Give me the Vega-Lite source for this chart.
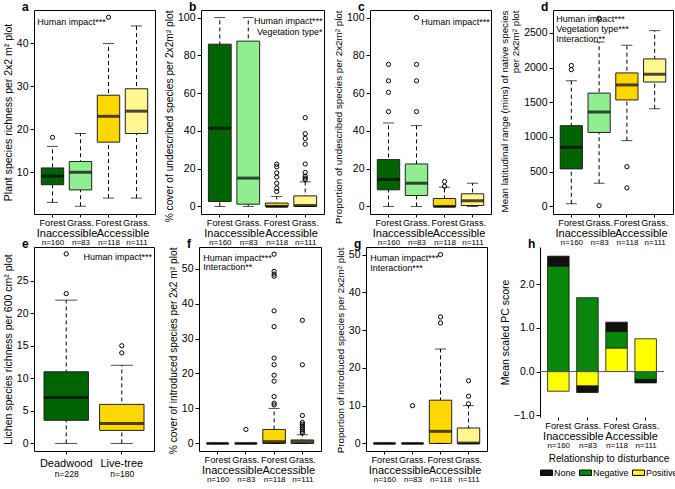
{
"$schema":"https://vega.github.io/schema/vega-lite/v6.json",
"padding":{"left":2,"top":0,"right":0,"bottom":0},
"datasets":{
"boxes":[
{"panel":"a","cat":"Forest|Inaccessible","grp":"Inaccessible","nlab":"n=160","lo":3,"q1":7.1,"med":9.1,"q3":11,"hi":16},
{"panel":"a","cat":"Grass.|Inaccessible","grp":"Inaccessible","nlab":"n=83","lo":2.1,"q1":5.9,"med":10,"q3":12.5,"hi":19},
{"panel":"a","cat":"Forest|Accessible","grp":"Accessible","nlab":"n=118","lo":4,"q1":17,"med":23,"q3":27.9,"hi":39.9},
{"panel":"a","cat":"Grass.|Accessible","grp":"Accessible","nlab":"n=111","lo":4,"q1":19,"med":24.2,"q3":29.4,"hi":44},
{"panel":"b","cat":"Forest|Inaccessible","grp":"Inaccessible","nlab":"n=160","lo":0,"q1":2.6,"med":41.4,"q3":85.9,"hi":100},
{"panel":"b","cat":"Grass.|Inaccessible","grp":"Inaccessible","nlab":"n=83","lo":0,"q1":1.2,"med":15,"q3":87.5,"hi":100},
{"panel":"b","cat":"Forest|Accessible","grp":"Accessible","nlab":"n=118","lo":0,"q1":0,"med":0,"q3":1.8,"hi":5.3},
{"panel":"b","cat":"Grass.|Accessible","grp":"Accessible","nlab":"n=111","lo":0,"q1":0,"med":0.5,"q3":5.6,"hi":13},
{"panel":"c","cat":"Forest|Inaccessible","grp":"Inaccessible","nlab":"n=160","lo":0,"q1":8.8,"med":14.3,"q3":24.8,"hi":44.2},
{"panel":"c","cat":"Grass.|Inaccessible","grp":"Inaccessible","nlab":"n=83","lo":0,"q1":5.8,"med":12.3,"q3":22.5,"hi":42.8},
{"panel":"c","cat":"Forest|Accessible","grp":"Accessible","nlab":"n=118","lo":0,"q1":0,"med":0,"q3":4.2,"hi":10.2},
{"panel":"c","cat":"Grass.|Accessible","grp":"Accessible","nlab":"n=111","lo":0,"q1":0.5,"med":3,"q3":6.7,"hi":12.3},
{"panel":"d","cat":"Forest|Inaccessible","grp":"Inaccessible","nlab":"n=160","lo":38,"q1":540,"med":853,"q3":1163,"hi":1810},
{"panel":"d","cat":"Grass.|Inaccessible","grp":"Inaccessible","nlab":"n=83","lo":333,"q1":1065,"med":1360,"q3":1632,"hi":2369},
{"panel":"d","cat":"Forest|Accessible","grp":"Accessible","nlab":"n=118","lo":947,"q1":1534,"med":1750,"q3":1923,"hi":2322},
{"panel":"d","cat":"Grass.|Accessible","grp":"Accessible","nlab":"n=111","lo":1407,"q1":1792,"med":1904,"q3":2125,"hi":2533},
{"panel":"e","cat":"Deadwood","grp":"Deadwood","nlab":"n=228","lo":0,"q1":3.55,"med":7.05,"q3":11,"hi":22},
{"panel":"e","cat":"Live-tree","grp":"Live-tree","nlab":"n=180","lo":0,"q1":2,"med":3.05,"q3":6,"hi":12},
{"panel":"f","cat":"Forest|Inaccessible","grp":"Inaccessible","nlab":"n=160","lo":0,"q1":0,"med":0,"q3":0,"hi":0},
{"panel":"f","cat":"Grass.|Inaccessible","grp":"Inaccessible","nlab":"n=83","lo":0,"q1":0,"med":0,"q3":0,"hi":0},
{"panel":"f","cat":"Forest|Accessible","grp":"Accessible","nlab":"n=118","lo":0,"q1":0,"med":0.5,"q3":4,"hi":10},
{"panel":"f","cat":"Grass.|Accessible","grp":"Accessible","nlab":"n=111","lo":0,"q1":0,"med":0.5,"q3":1,"hi":2.5},
{"panel":"g","cat":"Forest|Inaccessible","grp":"Inaccessible","nlab":"n=160","lo":0,"q1":0,"med":0,"q3":0,"hi":0},
{"panel":"g","cat":"Grass.|Inaccessible","grp":"Inaccessible","nlab":"n=83","lo":0,"q1":0,"med":0,"q3":0,"hi":0},
{"panel":"g","cat":"Forest|Accessible","grp":"Accessible","nlab":"n=118","lo":0,"q1":0,"med":3.2,"q3":11.45,"hi":25},
{"panel":"g","cat":"Grass.|Accessible","grp":"Accessible","nlab":"n=111","lo":0,"q1":0,"med":0.1,"q3":4.1,"hi":10}
],
"outliers":[
{"panel":"a","cat":"Forest|Inaccessible","v":18.1},
{"panel":"a","cat":"Forest|Accessible","v":46},
{"panel":"b","cat":"Forest|Accessible","v":22.4},
{"panel":"b","cat":"Forest|Accessible","v":21},
{"panel":"b","cat":"Forest|Accessible","v":17.8},
{"panel":"b","cat":"Forest|Accessible","v":15.5},
{"panel":"b","cat":"Forest|Accessible","v":12.3},
{"panel":"b","cat":"Forest|Accessible","v":9.7},
{"panel":"b","cat":"Forest|Accessible","v":7.9},
{"panel":"b","cat":"Grass.|Accessible","v":47},
{"panel":"b","cat":"Grass.|Accessible","v":38.5},
{"panel":"b","cat":"Grass.|Accessible","v":36},
{"panel":"b","cat":"Grass.|Accessible","v":33},
{"panel":"b","cat":"Grass.|Accessible","v":22.5},
{"panel":"b","cat":"Grass.|Accessible","v":18},
{"panel":"b","cat":"Grass.|Accessible","v":16},
{"panel":"b","cat":"Grass.|Accessible","v":15},
{"panel":"b","cat":"Grass.|Accessible","v":14.2},
{"panel":"c","cat":"Forest|Inaccessible","v":50.2},
{"panel":"c","cat":"Forest|Inaccessible","v":60.4},
{"panel":"c","cat":"Forest|Inaccessible","v":66.5},
{"panel":"c","cat":"Forest|Inaccessible","v":75.2},
{"panel":"c","cat":"Grass.|Inaccessible","v":50.2},
{"panel":"c","cat":"Grass.|Inaccessible","v":66.5},
{"panel":"c","cat":"Grass.|Inaccessible","v":75.2},
{"panel":"c","cat":"Grass.|Inaccessible","v":100},
{"panel":"c","cat":"Forest|Accessible","v":10.6},
{"panel":"c","cat":"Forest|Accessible","v":13.2},
{"panel":"d","cat":"Forest|Inaccessible","v":1970},
{"panel":"d","cat":"Forest|Inaccessible","v":2030},
{"panel":"d","cat":"Grass.|Inaccessible","v":10},
{"panel":"d","cat":"Grass.|Inaccessible","v":2711},
{"panel":"d","cat":"Forest|Accessible","v":572},
{"panel":"d","cat":"Forest|Accessible","v":267},
{"panel":"e","cat":"Deadwood","v":23},
{"panel":"e","cat":"Deadwood","v":29.1},
{"panel":"e","cat":"Live-tree","v":13.9},
{"panel":"e","cat":"Live-tree","v":15},
{"panel":"f","cat":"Grass.|Inaccessible","v":4},
{"panel":"f","cat":"Forest|Accessible","v":11},
{"panel":"f","cat":"Forest|Accessible","v":11.5},
{"panel":"f","cat":"Forest|Accessible","v":13.4},
{"panel":"f","cat":"Forest|Accessible","v":17.8},
{"panel":"f","cat":"Forest|Accessible","v":19.5},
{"panel":"f","cat":"Forest|Accessible","v":22.5},
{"panel":"f","cat":"Forest|Accessible","v":24.4},
{"panel":"f","cat":"Forest|Accessible","v":33.4},
{"panel":"f","cat":"Forest|Accessible","v":37.9},
{"panel":"f","cat":"Forest|Accessible","v":47.8},
{"panel":"f","cat":"Forest|Accessible","v":48.4},
{"panel":"f","cat":"Forest|Accessible","v":49.2},
{"panel":"f","cat":"Forest|Accessible","v":54.1},
{"panel":"f","cat":"Grass.|Accessible","v":3},
{"panel":"f","cat":"Grass.|Accessible","v":3.5},
{"panel":"f","cat":"Grass.|Accessible","v":4},
{"panel":"f","cat":"Grass.|Accessible","v":4.5},
{"panel":"f","cat":"Grass.|Accessible","v":5},
{"panel":"f","cat":"Grass.|Accessible","v":5.5},
{"panel":"f","cat":"Grass.|Accessible","v":6},
{"panel":"f","cat":"Grass.|Accessible","v":8},
{"panel":"f","cat":"Grass.|Accessible","v":22.5},
{"panel":"f","cat":"Grass.|Accessible","v":35.2},
{"panel":"g","cat":"Grass.|Inaccessible","v":10},
{"panel":"g","cat":"Forest|Accessible","v":31.9},
{"panel":"g","cat":"Forest|Accessible","v":33.5},
{"panel":"g","cat":"Forest|Accessible","v":50},
{"panel":"g","cat":"Grass.|Accessible","v":10.5},
{"panel":"g","cat":"Grass.|Accessible","v":12.5},
{"panel":"g","cat":"Grass.|Accessible","v":16.6}
],
"notes":[
{"panel":"a","cat":"Forest|Inaccessible","v":44.9,"label":"Human impact***"},
{"panel":"b","cat":"Grass.|Accessible","v":98.2,"label":"Human impact***"},
{"panel":"b","cat":"Grass.|Accessible","v":92.5,"label":"Vegetation type*"},
{"panel":"c","cat":"Grass.|Accessible","v":97.7,"label":"Human impact***"},
{"panel":"d","cat":"Forest|Inaccessible","v":2702,"label":"Human impact***"},
{"panel":"d","cat":"Forest|Inaccessible","v":2559,"label":"Vegetation type***"},
{"panel":"d","cat":"Forest|Inaccessible","v":2416,"label":"Interaction**"},
{"panel":"e","cat":"Live-tree","v":28.6,"label":"Human impact***"},
{"panel":"f","cat":"Forest|Inaccessible","v":53.1,"label":"Human impact***"},
{"panel":"f","cat":"Forest|Inaccessible","v":50.3,"label":"Interaction**"},
{"panel":"g","cat":"Forest|Inaccessible","v":49.1,"label":"Human impact***"},
{"panel":"g","cat":"Forest|Inaccessible","v":46.5,"label":"Interaction***"}
],
"pc":[
{"cat":"Forest|Inaccessible","grp":"Inaccessible","nlab":"n=160","rel":"Positive","rank":1,"score":-0.45},
{"cat":"Forest|Inaccessible","grp":"Inaccessible","nlab":"n=160","rel":"Negative","rank":2,"score":2.41},
{"cat":"Forest|Inaccessible","grp":"Inaccessible","nlab":"n=160","rel":"None","rank":3,"score":0.23},
{"cat":"Grass.|Inaccessible","grp":"Inaccessible","nlab":"n=83","rel":"Positive","rank":1,"score":-0.33},
{"cat":"Grass.|Inaccessible","grp":"Inaccessible","nlab":"n=83","rel":"Negative","rank":2,"score":1.69},
{"cat":"Grass.|Inaccessible","grp":"Inaccessible","nlab":"n=83","rel":"None","rank":3,"score":-0.15},
{"cat":"Forest|Accessible","grp":"Accessible","nlab":"n=118","rel":"Positive","rank":1,"score":0.54},
{"cat":"Forest|Accessible","grp":"Accessible","nlab":"n=118","rel":"Negative","rank":2,"score":0.38},
{"cat":"Forest|Accessible","grp":"Accessible","nlab":"n=118","rel":"None","rank":3,"score":0.21},
{"cat":"Grass.|Accessible","grp":"Accessible","nlab":"n=111","rel":"Positive","rank":1,"score":0.75},
{"cat":"Grass.|Accessible","grp":"Accessible","nlab":"n=111","rel":"Negative","rank":2,"score":-0.18},
{"cat":"Grass.|Accessible","grp":"Accessible","nlab":"n=111","rel":"None","rank":3,"score":-0.08}
]
},
"vconcat":[
{"hconcat":[
{"title":"a","width":121,"height":204,"resolve":{"scale":{"x":"independent"},"axis":{"x":"independent"}},
"data":{"name":"boxes"},"transform":[{"filter":"datum.panel=='a'"}],
"layer":[
{"mark":{"type":"rule","strokeDash":[4,3],"color":"#000"},"encoding":{"x":{"field":"cat","type":"nominal","scale":{"type":"band","domain":["Forest|Inaccessible","Grass.|Inaccessible","Forest|Accessible","Grass.|Accessible"],"paddingInner":0.2,"paddingOuter":0.26},"axis":{"title":null,"orient":"bottom","labelExpr":"split(datum.label,'|')[0]","labelPadding":1,"labelFontSize":9.2,"domain":false,"ticks":true,"tickSize":3,"labelOverlap":false}},"y":{"field":"lo","type":"quantitative","scale":{"domain":[0.3,47.7],"nice":false,"zero":false},"axis":{"title":"Plant species richness per 2x2 m² plot","values":[10,20,30,40]}},"y2":{"field":"hi"}}},
{"mark":{"type":"bar","stroke":"#222","strokeWidth":1},"encoding":{"x":{"field":"cat","type":"nominal","scale":{"type":"band","domain":["Forest|Inaccessible","Grass.|Inaccessible","Forest|Accessible","Grass.|Accessible"],"paddingInner":0.2,"paddingOuter":0.26},"axis":null},"y":{"field":"q1","type":"quantitative"},"y2":{"field":"q3"},"color":{"field":"cat","type":"nominal","scale":{"domain":["Forest|Inaccessible","Grass.|Inaccessible","Forest|Accessible","Grass.|Accessible"],"range":["#006400","#90EE90","#FFD700","#FFF68F"]},"legend":null}}},
{"mark":{"type":"tick","size":11,"thickness":1,"color":"#000"},"encoding":{"x":{"field":"cat","type":"nominal","scale":{"type":"band","domain":["Forest|Inaccessible","Grass.|Inaccessible","Forest|Accessible","Grass.|Accessible"],"paddingInner":0.2,"paddingOuter":0.26},"axis":null},"y":{"field":"lo","type":"quantitative"}}},
{"mark":{"type":"tick","size":11,"thickness":1,"color":"#000"},"encoding":{"x":{"field":"cat","type":"nominal","scale":{"type":"band","domain":["Forest|Inaccessible","Grass.|Inaccessible","Forest|Accessible","Grass.|Accessible"],"paddingInner":0.2,"paddingOuter":0.26},"axis":null},"y":{"field":"hi","type":"quantitative"}}},
{"mark":{"type":"tick","size":22,"thickness":3,"color":"#000"},"encoding":{"x":{"field":"cat","type":"nominal","scale":{"type":"band","domain":["Forest|Inaccessible","Grass.|Inaccessible","Forest|Accessible","Grass.|Accessible"],"paddingInner":0.2,"paddingOuter":0.26},"axis":null},"y":{"field":"med","type":"quantitative"}}},
{"data":{"name":"outliers"},"transform":[{"filter":"datum.panel=='a'"}],"mark":{"type":"point","shape":"circle","filled":false,"size":18,"color":"#000","strokeWidth":1,"opacity":1},"encoding":{"x":{"field":"cat","type":"nominal","scale":{"type":"band","domain":["Forest|Inaccessible","Grass.|Inaccessible","Forest|Accessible","Grass.|Accessible"],"paddingInner":0.2,"paddingOuter":0.26},"axis":null},"y":{"field":"v","type":"quantitative"}}},
{"data":{"name":"notes"},"transform":[{"filter":"datum.panel=='a'"}],"mark":{"type":"text","align":"left","baseline":"middle","fontSize":9,"dx":-4},"encoding":{"x":{"field":"cat","type":"nominal","bandPosition":0,"scale":{"type":"band","domain":["Forest|Inaccessible","Grass.|Inaccessible","Forest|Accessible","Grass.|Accessible"],"paddingInner":0.2,"paddingOuter":0.26},"axis":null},"y":{"field":"v","type":"quantitative"},"text":{"field":"label"}}},
{"mark":{"type":"point","opacity":0},"encoding":{"x":{"field":"grp","type":"nominal","scale":{"type":"point","padding":0.58,"domain":["Inaccessible","Accessible"]},"axis":{"title":null,"orient":"bottom","labelPadding":13,"labelFontSize":11,"domain":false,"ticks":false,"labelOverlap":false}},"y":{"field":"med","type":"quantitative"}}},
{"mark":{"type":"point","opacity":0},"encoding":{"x":{"field":"nlab","type":"nominal","sort":null,"scale":{"type":"point","padding":0.66},"axis":{"title":null,"orient":"bottom","labelPadding":24,"labelFontSize":8,"domain":false,"ticks":false,"labelOverlap":false}},"y":{"field":"med","type":"quantitative"}}}
]},
{"title":"b","width":123,"height":204,"resolve":{"scale":{"x":"independent"},"axis":{"x":"independent"}},
"data":{"name":"boxes"},"transform":[{"filter":"datum.panel=='b'"}],
"layer":[
{"mark":{"type":"rule","strokeDash":[4,3],"color":"#000"},"encoding":{"x":{"field":"cat","type":"nominal","scale":{"type":"band","domain":["Forest|Inaccessible","Grass.|Inaccessible","Forest|Accessible","Grass.|Accessible"],"paddingInner":0.2,"paddingOuter":0.26},"axis":{"title":null,"orient":"bottom","labelExpr":"split(datum.label,'|')[0]","labelPadding":1,"labelFontSize":9.2,"domain":false,"ticks":true,"tickSize":3,"labelOverlap":false}},"y":{"field":"lo","type":"quantitative","scale":{"domain":[-4,104],"nice":false,"zero":false},"axis":{"title":"% cover of undescribed species per 2x2m² plot","titleAnchor":"end","titleFontSize":10.2,"values":[0,20,40,60,80,100]}},"y2":{"field":"hi"}}},
{"mark":{"type":"bar","stroke":"#222","strokeWidth":1},"encoding":{"x":{"field":"cat","type":"nominal","scale":{"type":"band","domain":["Forest|Inaccessible","Grass.|Inaccessible","Forest|Accessible","Grass.|Accessible"],"paddingInner":0.2,"paddingOuter":0.26},"axis":null},"y":{"field":"q1","type":"quantitative"},"y2":{"field":"q3"},"color":{"field":"cat","type":"nominal","scale":{"domain":["Forest|Inaccessible","Grass.|Inaccessible","Forest|Accessible","Grass.|Accessible"],"range":["#006400","#90EE90","#FFD700","#FFF68F"]},"legend":null}}},
{"mark":{"type":"tick","size":11,"thickness":1,"color":"#000"},"encoding":{"x":{"field":"cat","type":"nominal","scale":{"type":"band","domain":["Forest|Inaccessible","Grass.|Inaccessible","Forest|Accessible","Grass.|Accessible"],"paddingInner":0.2,"paddingOuter":0.26},"axis":null},"y":{"field":"lo","type":"quantitative"}}},
{"mark":{"type":"tick","size":11,"thickness":1,"color":"#000"},"encoding":{"x":{"field":"cat","type":"nominal","scale":{"type":"band","domain":["Forest|Inaccessible","Grass.|Inaccessible","Forest|Accessible","Grass.|Accessible"],"paddingInner":0.2,"paddingOuter":0.26},"axis":null},"y":{"field":"hi","type":"quantitative"}}},
{"mark":{"type":"tick","size":22,"thickness":3,"color":"#000"},"encoding":{"x":{"field":"cat","type":"nominal","scale":{"type":"band","domain":["Forest|Inaccessible","Grass.|Inaccessible","Forest|Accessible","Grass.|Accessible"],"paddingInner":0.2,"paddingOuter":0.26},"axis":null},"y":{"field":"med","type":"quantitative"}}},
{"data":{"name":"outliers"},"transform":[{"filter":"datum.panel=='b'"}],"mark":{"type":"point","shape":"circle","filled":false,"size":18,"color":"#000","strokeWidth":1,"opacity":1},"encoding":{"x":{"field":"cat","type":"nominal","scale":{"type":"band","domain":["Forest|Inaccessible","Grass.|Inaccessible","Forest|Accessible","Grass.|Accessible"],"paddingInner":0.2,"paddingOuter":0.26},"axis":null},"y":{"field":"v","type":"quantitative"}}},
{"data":{"name":"notes"},"transform":[{"filter":"datum.panel=='b'"}],"mark":{"type":"text","align":"right","baseline":"middle","fontSize":9,"dx":6},"encoding":{"x":{"field":"cat","type":"nominal","bandPosition":1,"scale":{"type":"band","domain":["Forest|Inaccessible","Grass.|Inaccessible","Forest|Accessible","Grass.|Accessible"],"paddingInner":0.2,"paddingOuter":0.26},"axis":null},"y":{"field":"v","type":"quantitative"},"text":{"field":"label"}}},
{"mark":{"type":"point","opacity":0},"encoding":{"x":{"field":"grp","type":"nominal","scale":{"type":"point","padding":0.58,"domain":["Inaccessible","Accessible"]},"axis":{"title":null,"orient":"bottom","labelPadding":13,"labelFontSize":11,"domain":false,"ticks":false,"labelOverlap":false}},"y":{"field":"med","type":"quantitative"}}},
{"mark":{"type":"point","opacity":0},"encoding":{"x":{"field":"nlab","type":"nominal","sort":null,"scale":{"type":"point","padding":0.66},"axis":{"title":null,"orient":"bottom","labelPadding":24,"labelFontSize":8,"domain":false,"ticks":false,"labelOverlap":false}},"y":{"field":"med","type":"quantitative"}}}
]},
{"title":"c","width":121,"height":204,"resolve":{"scale":{"x":"independent"},"axis":{"x":"independent"}},
"data":{"name":"boxes"},"transform":[{"filter":"datum.panel=='c'"}],
"layer":[
{"mark":{"type":"rule","strokeDash":[4,3],"color":"#000"},"encoding":{"x":{"field":"cat","type":"nominal","scale":{"type":"band","domain":["Forest|Inaccessible","Grass.|Inaccessible","Forest|Accessible","Grass.|Accessible"],"paddingInner":0.2,"paddingOuter":0.26},"axis":{"title":null,"orient":"bottom","labelExpr":"split(datum.label,'|')[0]","labelPadding":1,"labelFontSize":9.2,"domain":false,"ticks":true,"tickSize":3,"labelOverlap":false}},"y":{"field":"lo","type":"quantitative","scale":{"domain":[-4,104],"nice":false,"zero":false},"axis":{"title":"Proportion of undescribed species per 2x2m² plot","titleAnchor":"end","titleFontSize":9.8,"values":[0,20,40,60,80,100]}},"y2":{"field":"hi"}}},
{"mark":{"type":"bar","stroke":"#222","strokeWidth":1},"encoding":{"x":{"field":"cat","type":"nominal","scale":{"type":"band","domain":["Forest|Inaccessible","Grass.|Inaccessible","Forest|Accessible","Grass.|Accessible"],"paddingInner":0.2,"paddingOuter":0.26},"axis":null},"y":{"field":"q1","type":"quantitative"},"y2":{"field":"q3"},"color":{"field":"cat","type":"nominal","scale":{"domain":["Forest|Inaccessible","Grass.|Inaccessible","Forest|Accessible","Grass.|Accessible"],"range":["#006400","#90EE90","#FFD700","#FFF68F"]},"legend":null}}},
{"mark":{"type":"tick","size":11,"thickness":1,"color":"#000"},"encoding":{"x":{"field":"cat","type":"nominal","scale":{"type":"band","domain":["Forest|Inaccessible","Grass.|Inaccessible","Forest|Accessible","Grass.|Accessible"],"paddingInner":0.2,"paddingOuter":0.26},"axis":null},"y":{"field":"lo","type":"quantitative"}}},
{"mark":{"type":"tick","size":11,"thickness":1,"color":"#000"},"encoding":{"x":{"field":"cat","type":"nominal","scale":{"type":"band","domain":["Forest|Inaccessible","Grass.|Inaccessible","Forest|Accessible","Grass.|Accessible"],"paddingInner":0.2,"paddingOuter":0.26},"axis":null},"y":{"field":"hi","type":"quantitative"}}},
{"mark":{"type":"tick","size":22,"thickness":3,"color":"#000"},"encoding":{"x":{"field":"cat","type":"nominal","scale":{"type":"band","domain":["Forest|Inaccessible","Grass.|Inaccessible","Forest|Accessible","Grass.|Accessible"],"paddingInner":0.2,"paddingOuter":0.26},"axis":null},"y":{"field":"med","type":"quantitative"}}},
{"data":{"name":"outliers"},"transform":[{"filter":"datum.panel=='c'"}],"mark":{"type":"point","shape":"circle","filled":false,"size":18,"color":"#000","strokeWidth":1,"opacity":1},"encoding":{"x":{"field":"cat","type":"nominal","scale":{"type":"band","domain":["Forest|Inaccessible","Grass.|Inaccessible","Forest|Accessible","Grass.|Accessible"],"paddingInner":0.2,"paddingOuter":0.26},"axis":null},"y":{"field":"v","type":"quantitative"}}},
{"data":{"name":"notes"},"transform":[{"filter":"datum.panel=='c'"}],"mark":{"type":"text","align":"right","baseline":"middle","fontSize":9,"dx":6},"encoding":{"x":{"field":"cat","type":"nominal","bandPosition":1,"scale":{"type":"band","domain":["Forest|Inaccessible","Grass.|Inaccessible","Forest|Accessible","Grass.|Accessible"],"paddingInner":0.2,"paddingOuter":0.26},"axis":null},"y":{"field":"v","type":"quantitative"},"text":{"field":"label"}}},
{"mark":{"type":"point","opacity":0},"encoding":{"x":{"field":"grp","type":"nominal","scale":{"type":"point","padding":0.58,"domain":["Inaccessible","Accessible"]},"axis":{"title":null,"orient":"bottom","labelPadding":13,"labelFontSize":11,"domain":false,"ticks":false,"labelOverlap":false}},"y":{"field":"med","type":"quantitative"}}},
{"mark":{"type":"point","opacity":0},"encoding":{"x":{"field":"nlab","type":"nominal","sort":null,"scale":{"type":"point","padding":0.66},"axis":{"title":null,"orient":"bottom","labelPadding":24,"labelFontSize":8,"domain":false,"ticks":false,"labelOverlap":false}},"y":{"field":"med","type":"quantitative"}}}
]},
{"title":"d","width":120,"height":204,"resolve":{"scale":{"x":"independent"},"axis":{"x":"independent"}},
"data":{"name":"boxes"},"transform":[{"filter":"datum.panel=='d'"}],
"layer":[
{"mark":{"type":"rule","strokeDash":[4,3],"color":"#000"},"encoding":{"x":{"field":"cat","type":"nominal","scale":{"type":"band","domain":["Forest|Inaccessible","Grass.|Inaccessible","Forest|Accessible","Grass.|Accessible"],"paddingInner":0.2,"paddingOuter":0.26},"axis":{"title":null,"orient":"bottom","labelExpr":"split(datum.label,'|')[0]","labelPadding":1,"labelFontSize":9.2,"domain":false,"ticks":true,"tickSize":3,"labelOverlap":false}},"y":{"field":"lo","type":"quantitative","scale":{"domain":[-110,2830],"nice":false,"zero":false},"axis":{"title":["Mean latitudinal range (mins) of native species","per 2x2m² plot"],"titleAnchor":"end","titleFontSize":9.8,"titleLineHeight":11,"format":"d","values":[0,500,1000,1500,2000,2500]}},"y2":{"field":"hi"}}},
{"mark":{"type":"bar","stroke":"#222","strokeWidth":1},"encoding":{"x":{"field":"cat","type":"nominal","scale":{"type":"band","domain":["Forest|Inaccessible","Grass.|Inaccessible","Forest|Accessible","Grass.|Accessible"],"paddingInner":0.2,"paddingOuter":0.26},"axis":null},"y":{"field":"q1","type":"quantitative"},"y2":{"field":"q3"},"color":{"field":"cat","type":"nominal","scale":{"domain":["Forest|Inaccessible","Grass.|Inaccessible","Forest|Accessible","Grass.|Accessible"],"range":["#006400","#90EE90","#FFD700","#FFF68F"]},"legend":null}}},
{"mark":{"type":"tick","size":11,"thickness":1,"color":"#000"},"encoding":{"x":{"field":"cat","type":"nominal","scale":{"type":"band","domain":["Forest|Inaccessible","Grass.|Inaccessible","Forest|Accessible","Grass.|Accessible"],"paddingInner":0.2,"paddingOuter":0.26},"axis":null},"y":{"field":"lo","type":"quantitative"}}},
{"mark":{"type":"tick","size":11,"thickness":1,"color":"#000"},"encoding":{"x":{"field":"cat","type":"nominal","scale":{"type":"band","domain":["Forest|Inaccessible","Grass.|Inaccessible","Forest|Accessible","Grass.|Accessible"],"paddingInner":0.2,"paddingOuter":0.26},"axis":null},"y":{"field":"hi","type":"quantitative"}}},
{"mark":{"type":"tick","size":22,"thickness":3,"color":"#000"},"encoding":{"x":{"field":"cat","type":"nominal","scale":{"type":"band","domain":["Forest|Inaccessible","Grass.|Inaccessible","Forest|Accessible","Grass.|Accessible"],"paddingInner":0.2,"paddingOuter":0.26},"axis":null},"y":{"field":"med","type":"quantitative"}}},
{"data":{"name":"outliers"},"transform":[{"filter":"datum.panel=='d'"}],"mark":{"type":"point","shape":"circle","filled":false,"size":18,"color":"#000","strokeWidth":1,"opacity":1},"encoding":{"x":{"field":"cat","type":"nominal","scale":{"type":"band","domain":["Forest|Inaccessible","Grass.|Inaccessible","Forest|Accessible","Grass.|Accessible"],"paddingInner":0.2,"paddingOuter":0.26},"axis":null},"y":{"field":"v","type":"quantitative"}}},
{"data":{"name":"notes"},"transform":[{"filter":"datum.panel=='d'"}],"mark":{"type":"text","align":"left","baseline":"middle","fontSize":9,"dx":-4},"encoding":{"x":{"field":"cat","type":"nominal","bandPosition":0,"scale":{"type":"band","domain":["Forest|Inaccessible","Grass.|Inaccessible","Forest|Accessible","Grass.|Accessible"],"paddingInner":0.2,"paddingOuter":0.26},"axis":null},"y":{"field":"v","type":"quantitative"},"text":{"field":"label"}}},
{"mark":{"type":"point","opacity":0},"encoding":{"x":{"field":"grp","type":"nominal","scale":{"type":"point","padding":0.58,"domain":["Inaccessible","Accessible"]},"axis":{"title":null,"orient":"bottom","labelPadding":13,"labelFontSize":11,"domain":false,"ticks":false,"labelOverlap":false}},"y":{"field":"med","type":"quantitative"}}},
{"mark":{"type":"point","opacity":0},"encoding":{"x":{"field":"nlab","type":"nominal","sort":null,"scale":{"type":"point","padding":0.66},"axis":{"title":null,"orient":"bottom","labelPadding":24,"labelFontSize":8,"domain":false,"ticks":false,"labelOverlap":false}},"y":{"field":"med","type":"quantitative"}}}
]}
],"spacing":7,"resolve":{"scale":{"color":"independent"}}},
{"hconcat":[
{"title":"e","width":120,"height":204,"resolve":{"scale":{"x":"independent"},"axis":{"x":"independent"}},
"data":{"name":"boxes"},"transform":[{"filter":"datum.panel=='e'"}],
"layer":[
{"mark":{"type":"rule","strokeDash":[4,3],"color":"#000"},"encoding":{"x":{"field":"cat","type":"nominal","scale":{"type":"band","domain":["Deadwood","Live-tree"],"paddingInner":0.2,"paddingOuter":0.18},"axis":{"title":null,"orient":"bottom","labelPadding":3,"labelFontSize":11,"domain":false,"ticks":true,"tickSize":3,"labelOverlap":false}},"y":{"field":"lo","type":"quantitative","scale":{"domain":[-1.16,30.16],"nice":false,"zero":false},"axis":{"title":"Lichen species richness per 600 cm² plot","values":[0,5,10,15,20,25]}},"y2":{"field":"hi"}}},
{"mark":{"type":"bar","stroke":"#222","strokeWidth":1},"encoding":{"x":{"field":"cat","type":"nominal","scale":{"type":"band","domain":["Deadwood","Live-tree"],"paddingInner":0.2,"paddingOuter":0.18},"axis":null},"y":{"field":"q1","type":"quantitative"},"y2":{"field":"q3"},"color":{"field":"cat","type":"nominal","scale":{"domain":["Deadwood","Live-tree"],"range":["#006400","#FFD700"]},"legend":null}}},
{"mark":{"type":"tick","size":22,"thickness":1,"color":"#000"},"encoding":{"x":{"field":"cat","type":"nominal","scale":{"type":"band","domain":["Deadwood","Live-tree"],"paddingInner":0.2,"paddingOuter":0.18},"axis":null},"y":{"field":"lo","type":"quantitative"}}},
{"mark":{"type":"tick","size":22,"thickness":1,"color":"#000"},"encoding":{"x":{"field":"cat","type":"nominal","scale":{"type":"band","domain":["Deadwood","Live-tree"],"paddingInner":0.2,"paddingOuter":0.18},"axis":null},"y":{"field":"hi","type":"quantitative"}}},
{"mark":{"type":"tick","size":44,"thickness":3,"color":"#000"},"encoding":{"x":{"field":"cat","type":"nominal","scale":{"type":"band","domain":["Deadwood","Live-tree"],"paddingInner":0.2,"paddingOuter":0.18},"axis":null},"y":{"field":"med","type":"quantitative"}}},
{"data":{"name":"outliers"},"transform":[{"filter":"datum.panel=='e'"}],"mark":{"type":"point","shape":"circle","filled":false,"size":18,"color":"#000","strokeWidth":1,"opacity":1},"encoding":{"x":{"field":"cat","type":"nominal","scale":{"type":"band","domain":["Deadwood","Live-tree"],"paddingInner":0.2,"paddingOuter":0.18},"axis":null},"y":{"field":"v","type":"quantitative"}}},
{"data":{"name":"notes"},"transform":[{"filter":"datum.panel=='e'"}],"mark":{"type":"text","align":"right","baseline":"middle","fontSize":9,"dx":8},"encoding":{"x":{"field":"cat","type":"nominal","bandPosition":1,"scale":{"type":"band","domain":["Deadwood","Live-tree"],"paddingInner":0.2,"paddingOuter":0.18},"axis":null},"y":{"field":"v","type":"quantitative"},"text":{"field":"label"}}},
{"mark":{"type":"point","opacity":0},"encoding":{"x":{"field":"nlab","type":"nominal","sort":null,"scale":{"type":"point","padding":0.58},"axis":{"title":null,"orient":"bottom","labelPadding":18,"labelFontSize":8.5,"domain":false,"ticks":false,"labelOverlap":false}},"y":{"field":"med","type":"quantitative"}}}
]},
{"title":"f","width":122,"height":204,"resolve":{"scale":{"x":"independent"},"axis":{"x":"independent"}},
"data":{"name":"boxes"},"transform":[{"filter":"datum.panel=='f'"}],
"layer":[
{"mark":{"type":"rule","strokeDash":[4,3],"color":"#000"},"encoding":{"x":{"field":"cat","type":"nominal","scale":{"type":"band","domain":["Forest|Inaccessible","Grass.|Inaccessible","Forest|Accessible","Grass.|Accessible"],"paddingInner":0.2,"paddingOuter":0.26},"axis":{"title":null,"orient":"bottom","labelExpr":"split(datum.label,'|')[0]","labelPadding":1,"labelFontSize":9.2,"domain":false,"ticks":true,"tickSize":3,"labelOverlap":false}},"y":{"field":"lo","type":"quantitative","scale":{"domain":[-2.16,56.16],"nice":false,"zero":false},"axis":{"title":"% cover of introduced species per 2x2 m² plot","titleAnchor":"end","titleFontSize":10.2,"values":[0,10,20,30,40,50]}},"y2":{"field":"hi"}}},
{"mark":{"type":"bar","stroke":"#222","strokeWidth":1},"encoding":{"x":{"field":"cat","type":"nominal","scale":{"type":"band","domain":["Forest|Inaccessible","Grass.|Inaccessible","Forest|Accessible","Grass.|Accessible"],"paddingInner":0.2,"paddingOuter":0.26},"axis":null},"y":{"field":"q1","type":"quantitative"},"y2":{"field":"q3"},"color":{"field":"cat","type":"nominal","scale":{"domain":["Forest|Inaccessible","Grass.|Inaccessible","Forest|Accessible","Grass.|Accessible"],"range":["#006400","#90EE90","#FFD700","#FFF68F"]},"legend":null}}},
{"mark":{"type":"tick","size":11,"thickness":1,"color":"#000"},"encoding":{"x":{"field":"cat","type":"nominal","scale":{"type":"band","domain":["Forest|Inaccessible","Grass.|Inaccessible","Forest|Accessible","Grass.|Accessible"],"paddingInner":0.2,"paddingOuter":0.26},"axis":null},"y":{"field":"lo","type":"quantitative"}}},
{"mark":{"type":"tick","size":11,"thickness":1,"color":"#000"},"encoding":{"x":{"field":"cat","type":"nominal","scale":{"type":"band","domain":["Forest|Inaccessible","Grass.|Inaccessible","Forest|Accessible","Grass.|Accessible"],"paddingInner":0.2,"paddingOuter":0.26},"axis":null},"y":{"field":"hi","type":"quantitative"}}},
{"mark":{"type":"tick","size":22,"thickness":3,"color":"#000"},"encoding":{"x":{"field":"cat","type":"nominal","scale":{"type":"band","domain":["Forest|Inaccessible","Grass.|Inaccessible","Forest|Accessible","Grass.|Accessible"],"paddingInner":0.2,"paddingOuter":0.26},"axis":null},"y":{"field":"med","type":"quantitative"}}},
{"data":{"name":"outliers"},"transform":[{"filter":"datum.panel=='f'"}],"mark":{"type":"point","shape":"circle","filled":false,"size":18,"color":"#000","strokeWidth":1,"opacity":1},"encoding":{"x":{"field":"cat","type":"nominal","scale":{"type":"band","domain":["Forest|Inaccessible","Grass.|Inaccessible","Forest|Accessible","Grass.|Accessible"],"paddingInner":0.2,"paddingOuter":0.26},"axis":null},"y":{"field":"v","type":"quantitative"}}},
{"data":{"name":"notes"},"transform":[{"filter":"datum.panel=='f'"}],"mark":{"type":"text","align":"left","baseline":"middle","fontSize":9,"dx":-3},"encoding":{"x":{"field":"cat","type":"nominal","bandPosition":0,"scale":{"type":"band","domain":["Forest|Inaccessible","Grass.|Inaccessible","Forest|Accessible","Grass.|Accessible"],"paddingInner":0.2,"paddingOuter":0.26},"axis":null},"y":{"field":"v","type":"quantitative"},"text":{"field":"label"}}},
{"mark":{"type":"point","opacity":0},"encoding":{"x":{"field":"grp","type":"nominal","scale":{"type":"point","padding":0.58,"domain":["Inaccessible","Accessible"]},"axis":{"title":null,"orient":"bottom","labelPadding":13,"labelFontSize":11,"domain":false,"ticks":false,"labelOverlap":false}},"y":{"field":"med","type":"quantitative"}}},
{"mark":{"type":"point","opacity":0},"encoding":{"x":{"field":"nlab","type":"nominal","sort":null,"scale":{"type":"point","padding":0.66},"axis":{"title":null,"orient":"bottom","labelPadding":24,"labelFontSize":8,"domain":false,"ticks":false,"labelOverlap":false}},"y":{"field":"med","type":"quantitative"}}}
]},
{"title":"g","width":121,"height":204,"resolve":{"scale":{"x":"independent"},"axis":{"x":"independent"}},
"data":{"name":"boxes"},"transform":[{"filter":"datum.panel=='g'"}],
"layer":[
{"mark":{"type":"rule","strokeDash":[4,3],"color":"#000"},"encoding":{"x":{"field":"cat","type":"nominal","scale":{"type":"band","domain":["Forest|Inaccessible","Grass.|Inaccessible","Forest|Accessible","Grass.|Accessible"],"paddingInner":0.2,"paddingOuter":0.26},"axis":{"title":null,"orient":"bottom","labelExpr":"split(datum.label,'|')[0]","labelPadding":1,"labelFontSize":9.2,"domain":false,"ticks":true,"tickSize":3,"labelOverlap":false}},"y":{"field":"lo","type":"quantitative","scale":{"domain":[-2,52],"nice":false,"zero":false},"axis":{"title":"Proportion of introduced species per 2x2m² plot","titleAnchor":"end","titleFontSize":9.8,"values":[0,10,20,30,40,50]}},"y2":{"field":"hi"}}},
{"mark":{"type":"bar","stroke":"#222","strokeWidth":1},"encoding":{"x":{"field":"cat","type":"nominal","scale":{"type":"band","domain":["Forest|Inaccessible","Grass.|Inaccessible","Forest|Accessible","Grass.|Accessible"],"paddingInner":0.2,"paddingOuter":0.26},"axis":null},"y":{"field":"q1","type":"quantitative"},"y2":{"field":"q3"},"color":{"field":"cat","type":"nominal","scale":{"domain":["Forest|Inaccessible","Grass.|Inaccessible","Forest|Accessible","Grass.|Accessible"],"range":["#006400","#90EE90","#FFD700","#FFF68F"]},"legend":null}}},
{"mark":{"type":"tick","size":11,"thickness":1,"color":"#000"},"encoding":{"x":{"field":"cat","type":"nominal","scale":{"type":"band","domain":["Forest|Inaccessible","Grass.|Inaccessible","Forest|Accessible","Grass.|Accessible"],"paddingInner":0.2,"paddingOuter":0.26},"axis":null},"y":{"field":"lo","type":"quantitative"}}},
{"mark":{"type":"tick","size":11,"thickness":1,"color":"#000"},"encoding":{"x":{"field":"cat","type":"nominal","scale":{"type":"band","domain":["Forest|Inaccessible","Grass.|Inaccessible","Forest|Accessible","Grass.|Accessible"],"paddingInner":0.2,"paddingOuter":0.26},"axis":null},"y":{"field":"hi","type":"quantitative"}}},
{"mark":{"type":"tick","size":22,"thickness":3,"color":"#000"},"encoding":{"x":{"field":"cat","type":"nominal","scale":{"type":"band","domain":["Forest|Inaccessible","Grass.|Inaccessible","Forest|Accessible","Grass.|Accessible"],"paddingInner":0.2,"paddingOuter":0.26},"axis":null},"y":{"field":"med","type":"quantitative"}}},
{"data":{"name":"outliers"},"transform":[{"filter":"datum.panel=='g'"}],"mark":{"type":"point","shape":"circle","filled":false,"size":18,"color":"#000","strokeWidth":1,"opacity":1},"encoding":{"x":{"field":"cat","type":"nominal","scale":{"type":"band","domain":["Forest|Inaccessible","Grass.|Inaccessible","Forest|Accessible","Grass.|Accessible"],"paddingInner":0.2,"paddingOuter":0.26},"axis":null},"y":{"field":"v","type":"quantitative"}}},
{"data":{"name":"notes"},"transform":[{"filter":"datum.panel=='g'"}],"mark":{"type":"text","align":"left","baseline":"middle","fontSize":9,"dx":-3},"encoding":{"x":{"field":"cat","type":"nominal","bandPosition":0,"scale":{"type":"band","domain":["Forest|Inaccessible","Grass.|Inaccessible","Forest|Accessible","Grass.|Accessible"],"paddingInner":0.2,"paddingOuter":0.26},"axis":null},"y":{"field":"v","type":"quantitative"},"text":{"field":"label"}}},
{"mark":{"type":"point","opacity":0},"encoding":{"x":{"field":"grp","type":"nominal","scale":{"type":"point","padding":0.58,"domain":["Inaccessible","Accessible"]},"axis":{"title":null,"orient":"bottom","labelPadding":13,"labelFontSize":11,"domain":false,"ticks":false,"labelOverlap":false}},"y":{"field":"med","type":"quantitative"}}},
{"mark":{"type":"point","opacity":0},"encoding":{"x":{"field":"nlab","type":"nominal","sort":null,"scale":{"type":"point","padding":0.66},"axis":{"title":null,"orient":"bottom","labelPadding":24,"labelFontSize":8,"domain":false,"ticks":false,"labelOverlap":false}},"y":{"field":"med","type":"quantitative"}}}
]},
{"title":"h","width":124,"height":170,"view":{"stroke":null},"resolve":{"scale":{"x":"independent"},"axis":{"x":"independent"}},
"data":{"name":"pc"},
"layer":[
{"mark":{"type":"bar","stroke":"#111","strokeWidth":0.8},"encoding":{"x":{"field":"cat","type":"nominal","scale":{"type":"band","domain":["Forest|Inaccessible","Grass.|Inaccessible","Forest|Accessible","Grass.|Accessible"],"paddingInner":0.26,"paddingOuter":0.26},"axis":{"title":null,"orient":"bottom","labelExpr":"split(datum.label,'|')[0]","labelPadding":1,"labelFontSize":9.2,"domain":false,"ticks":true,"tickSize":3,"labelOverlap":false}},"y":{"field":"score","type":"quantitative","stack":"zero","scale":{"domain":[-1.04,2.85],"nice":false,"zero":false},"axis":{"title":"Mean scaled PC score","values":[-1,-0.5,0,0.5,1,1.5,2,2.5],"format":".1f","domain":true}},"color":{"field":"rel","type":"nominal","scale":{"domain":["None","Negative","Positive"],"range":["#111111","#0a870a","#ffff00"]},"legend":{"title":"Relationship to disturbance","orient":"bottom","direction":"horizontal","gridAlign":"each","titleAnchor":"middle","titleFontSize":10,"titleFontWeight":"normal","labelFontSize":9,"symbolType":"M-1,-0.45H1V0.45H-1Z","symbolSize":144,"symbolStrokeColor":"#000","symbolStrokeWidth":1,"symbolOpacity":1,"columnPadding":1,"labelOffset":1,"offset":5,"titlePadding":2,"padding":0}},"order":{"field":"rank","type":"quantitative"}}},
{"data":{"values":[{"zero":0}]},"mark":{"type":"rule","color":"#555","strokeWidth":1},"encoding":{"y":{"field":"zero","type":"quantitative"}}},
{"mark":{"type":"point","opacity":0},"encoding":{"x":{"field":"grp","type":"nominal","scale":{"type":"point","padding":0.564,"domain":["Inaccessible","Accessible"]},"axis":{"title":null,"orient":"bottom","labelPadding":13,"labelFontSize":11,"domain":false,"ticks":false,"labelOverlap":false}},"y":{"field":"score","type":"quantitative"}}},
{"mark":{"type":"point","opacity":0},"encoding":{"x":{"field":"nlab","type":"nominal","sort":null,"scale":{"type":"point","padding":0.63},"axis":{"title":null,"orient":"bottom","labelPadding":24,"labelFontSize":8,"domain":false,"ticks":false,"labelOverlap":false}},"y":{"field":"score","type":"quantitative"}}}
]}
],"spacing":12,"resolve":{"scale":{"color":"independent"}}}
],
"spacing":-10,
"resolve":{"scale":{"color":"independent"}},
"config":{
"font":"Liberation Sans",
"view":{"stroke":"#000","strokeWidth":1},
"axis":{"grid":false,"labelColor":"#000","titleColor":"#000","tickColor":"#000","domainColor":"#000","labelFontSize":10.5,"titleFontSize":10.5,"titleFontWeight":"normal","tickSize":4},
"axisX":{"labelAngle":0,"labelAlign":"center","labelBaseline":"top","tickSize":0},
"axisY":{"domain":false,"labelPadding":2,"titlePadding":3},
"title":{"anchor":"start","frame":"group","fontSize":12,"fontWeight":"bold","offset":-4,"dx":-12,"color":"#000"},
"legend":{"labelColor":"#000","titleColor":"#000"}
}
}
